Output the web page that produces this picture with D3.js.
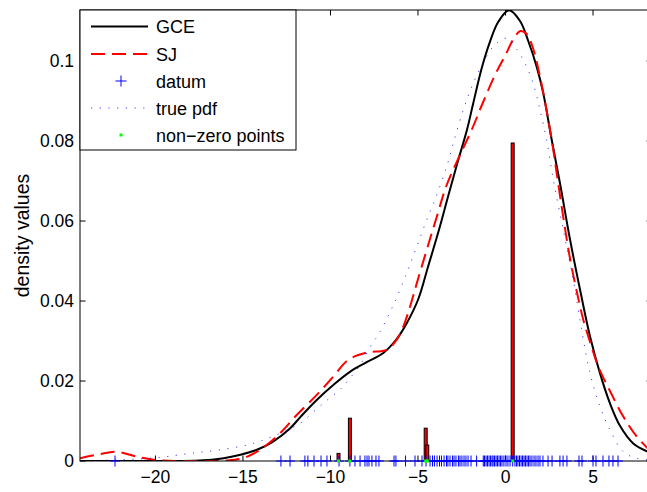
<!DOCTYPE html>
<html>
<head>
<meta charset="utf-8">
<script src="https://cdn.jsdelivr.net/npm/d3@7"></script>
<style>
  html, body { margin: 0; padding: 0; background: #fff; overflow: hidden; }
  svg { display: block; font-family: "Liberation Sans", Arial, Helvetica, sans-serif; }
</style>
</head>
<body>
<div id="chart"></div>
<script>
"use strict";

// tick values / labels
var xTicks = [-20, -15, -10, -5, 0, 5];
var xTickLabels = ["\u221220", "\u221215", "\u221210", "\u22125", "0", "5"];
var yTicks = [0, 0.02, 0.04, 0.06, 0.08, 0.1];
var yTickLabels = ["0", "0.02", "0.04", "0.06", "0.08", "0.1"];

// GCE density estimate [x, density]
var gce = [
  [-24.3, 0], [-20, 0], [-17.5, 0.0001], [-16.1, 0.0007], [-15.2, 0.0015],
  [-14.2, 0.0028], [-13.3, 0.0048], [-12.3, 0.0082], [-11.7, 0.0111],
  [-10.8, 0.0152], [-9.84, 0.019], [-8.89, 0.0223], [-7.93, 0.0247],
  [-6.98, 0.027], [-6.22, 0.0305], [-5.65, 0.0344], [-4.98, 0.0405],
  [-4.43, 0.0485], [-3.8, 0.0578], [-3.29, 0.066], [-2.77, 0.0742],
  [-2.2, 0.0828], [-1.84, 0.0895], [-1.36, 0.0982], [-0.89, 0.1048],
  [-0.41, 0.1098], [0.2, 0.1127], [0.83, 0.110], [1.3, 0.105], [1.78, 0.0986],
  [2.16, 0.0919], [2.64, 0.0803], [3.11, 0.0695], [3.69, 0.0553],
  [4.26, 0.0428], [4.83, 0.0311], [5.4, 0.0219], [5.97, 0.0144],
  [6.54, 0.0088], [7.3, 0.0044], [8.4, 0.0018]
];

// SJ kernel estimate
var sj = [
  [-24.3, 0.0007], [-23.2, 0.0017], [-22.2, 0.0023], [-20.9, 0.0009],
  [-19.9, 0.0002], [-18, 0.0], [-16, 0.0001], [-15, 0.0007], [-14.03, 0.0028],
  [-12.89, 0.0069], [-11.93, 0.0115], [-10.7, 0.0169], [-9.84, 0.0211],
  [-8.98, 0.0253], [-7.93, 0.0271], [-6.79, 0.0278], [-6.22, 0.0303],
  [-5.84, 0.0336], [-5.46, 0.0385], [-5.07, 0.0444], [-4.5, 0.0528],
  [-3.93, 0.061], [-3.36, 0.069], [-2.6, 0.0765], [-1.93, 0.0828],
  [-1.3, 0.0895], [-0.6, 0.0965], [0.0, 0.1015], [0.45, 0.1055], [0.85, 0.1075],
  [1.2, 0.1068], [1.55, 0.1035], [1.95, 0.0965], [2.3, 0.0888],
  [2.64, 0.0803], [2.93, 0.0718], [3.3, 0.061], [3.69, 0.0505], [4.1, 0.0418],
  [4.45, 0.0352], [4.9, 0.0288], [5.3, 0.0236], [5.97, 0.0175], [6.73, 0.0111],
  [7.5, 0.0061], [8.4, 0.002]
];

// true pdf
var truePdf = [
  [-24.3, 0.0001], [-22, 0.0003], [-19.74, 0.0009], [-18.03, 0.0019],
  [-16.31, 0.0028], [-14.41, 0.0044], [-12.89, 0.0069], [-11.74, 0.0094],
  [-10.79, 0.013], [-10.03, 0.0158], [-9.46, 0.0178], [-8.89, 0.0207],
  [-8.31, 0.024], [-7.74, 0.0284], [-7.17, 0.0323], [-6.6, 0.0372],
  [-6.22, 0.0408], [-5.65, 0.0469], [-5.07, 0.0536], [-4.5, 0.0603],
  [-3.93, 0.0665], [-3.36, 0.0736], [-2.98, 0.0795], [-2.41, 0.0878],
  [-1.84, 0.0945], [-1.27, 0.0995], [-0.7, 0.1036], [0.07, 0.1057],
  [0.64, 0.103], [1.21, 0.0986], [1.69, 0.0928], [1.97, 0.0878],
  [2.35, 0.0803], [2.73, 0.0703], [3.3, 0.0578], [3.87, 0.0453],
  [4.35, 0.0328], [4.83, 0.0219], [5.4, 0.0136], [5.97, 0.0078],
  [6.73, 0.0023], [7.5, 0.0007], [8.4, 0.0002]
];

// observed sample
var datum = [
  -22.31, -12.83, -12.31, -11.46, -11.29, -10.94, -10.54, -10.2, -9.51,
  -8.89, -8.6, -8.31, -8.03, -7.91, -7.8, -7.63, -7.4, -7.23, -6.37, -6.26,
  -5.71, -5.17, -4.77, -4.54, -4.31, -4.17, -4.06, -3.91, -3.77, -3.66,
  -3.51, -3.37, -3.29, -3.17, -3.03, -2.94, -2.83, -2.69, -2.6, -2.49,
  -2.37, -2.26, -2.14, -1.97, -1.65, -1.27, -1.2, -1.11, -1.03, -0.94,
  -0.86, -0.77, -0.71, -0.63, -0.54, -0.46, -0.37, -0.29, -0.2, -0.09,
  0.03, 0.14, 0.26, 0.41, 0.54, 0.63, 0.71, 0.8, 0.89, 0.97, 1.06, 1.14,
  1.23, 1.31, 1.4, 1.51, 1.63, 1.74, 1.86, 1.97, 2.14, 2.43, 2.66, 3.11,
  3.29, 3.51, 4.2, 4.37, 5.0, 5.17, 5.57, 5.91, 6.14, 6.43
];

// GCE non-zero weights
var nzX = [-9.54, -8.89, -4.56, -4.47, 0.41];
var nzW = [0.0019, 0.0107, 0.0082, 0.004, 0.0795];

draw(document.getElementById("chart"));

function draw(element) {
  var W = 647, H = 492;
  var m = { left: 80, right: 652, top: 10, bottom: 461 };
  var tickFont = "17.5px", legendFont = "18px";

  var x = d3.scaleLinear().domain([-24.31, 8.37]).range([m.left, m.right]);
  var y = d3.scaleLinear().domain([0, 0.11275]).range([m.bottom, m.top]);

  var svg = d3
    .select(element)
    .append("svg")
    .attr("width", W)
    .attr("height", H);

  svg
    .append("defs")
    .append("clipPath")
    .attr("id", "plotClip")
    .append("rect")
    .attr("x", m.left)
    .attr("y", m.top)
    .attr("width", m.right - m.left)
    .attr("height", m.bottom - m.top);

  var plot = svg.append("g").attr("clip-path", "url(#plotClip)");

  var line = d3
    .line()
    .x(function(d) { return x(d[0]); })
    .y(function(d) { return y(d[1]); })
    .curve(d3.curveCatmullRom.alpha(0.5));

  // bars for the non-zero points
  plot
    .selectAll(".bar")
    .data(nzX)
    .enter()
    .append("rect")
    .attr("class", "bar")
    .attr("x", function(d) { return x(d) - 1.5; })
    .attr("width", 3)
    .attr("y", function(d, i) { return y(nzW[i]); })
    .attr("height", function(d, i) { return y(0) - y(nzW[i]); })
    .style("fill", "#ff0000")
    .style("stroke", "#000")
    .style("stroke-width", 1);

  plot
    .append("path")
    .datum(gce)
    .attr("d", line)
    .style("fill", "none")
    .style("stroke", "#000")
    .style("stroke-width", 2);

  plot
    .append("path")
    .datum(sj)
    .attr("d", line)
    .style("fill", "none")
    .style("stroke", "#ff0000")
    .style("stroke-width", 2)
    .style("stroke-dasharray", "14,7");

  plot
    .append("path")
    .datum(truePdf)
    .attr("d", line)
    .style("fill", "none")
    .style("stroke", "#0000ff")
    .style("stroke-opacity", 0.75)
    .style("stroke-width", 1)
    .style("stroke-dasharray", "1.2,7.5");

  // axes box + inward ticks
  var axes = svg.append("g").style("stroke", "#000").style("stroke-width", 1);

  axes
    .append("rect")
    .attr("x", m.left)
    .attr("y", m.top)
    .attr("width", m.right - m.left)
    .attr("height", m.bottom - m.top)
    .style("fill", "none");

  xTicks.forEach(function(t) {
    axes.append("line")
      .attr("x1", x(t)).attr("x2", x(t))
      .attr("y1", m.bottom).attr("y2", m.bottom - 5.5);
    axes.append("line")
      .attr("x1", x(t)).attr("x2", x(t))
      .attr("y1", m.top).attr("y2", m.top + 5.5);
  });

  yTicks.forEach(function(t) {
    axes.append("line")
      .attr("x1", m.left).attr("x2", m.left + 5.5)
      .attr("y1", y(t)).attr("y2", y(t));
    axes.append("line")
      .attr("x1", m.right).attr("x2", m.right - 5.5)
      .attr("y1", y(t)).attr("y2", y(t));
  });

  // datum markers on the axis
  var marks = svg.append("g").style("stroke", "#0000ff").style("stroke-width", 1);
  datum.forEach(function(d) {
    marks.append("line")
      .attr("x1", x(d)).attr("x2", x(d))
      .attr("y1", y(0) - 5.5).attr("y2", y(0) + 5.5);
    marks.append("line")
      .attr("x1", x(d) - 5).attr("x2", x(d) + 5)
      .attr("y1", y(0)).attr("y2", y(0));
  });

  svg
    .selectAll(".nz")
    .data(nzX)
    .enter()
    .append("rect")
    .attr("class", "nz")
    .attr("x", function(d) { return x(d) - 1.5; })
    .attr("y", y(0) - 1.5)
    .attr("width", 3)
    .attr("height", 3)
    .style("fill", "#00ff00");

  // tick labels
  svg
    .selectAll(".xlab")
    .data(xTicks)
    .enter()
    .append("text")
    .attr("class", "xlab")
    .attr("x", function(d) { return x(d); })
    .attr("y", 483)
    .attr("text-anchor", "middle")
    .style("font-size", tickFont)
    .text(function(d, i) { return xTickLabels[i]; });

  svg
    .selectAll(".ylab")
    .data(yTicks)
    .enter()
    .append("text")
    .attr("class", "ylab")
    .attr("x", 74)
    .attr("y", function(d) { return y(d) + 6; })
    .attr("text-anchor", "end")
    .style("font-size", tickFont)
    .text(function(d, i) { return yTickLabels[i]; });

  svg
    .append("text")
    .attr("transform", "translate(29," + (m.top + m.bottom) / 2 + ") rotate(-90)")
    .attr("text-anchor", "middle")
    .style("font-size", "19.5px")
    .text("density values");

  // legend
  var lg = svg.append("g");
  lg.append("rect")
    .attr("x", m.left)
    .attr("y", m.top)
    .attr("width", 216)
    .attr("height", 140)
    .style("fill", "#fff")
    .style("stroke", "#000")
    .style("stroke-width", 1);

  var legendNames = ["GCE", "SJ", "datum", "true pdf", "non\u2212zero points"];
  var rowY = [26.5, 54, 81, 108, 135];

  legendNames.forEach(function(name, i) {
    var yy = rowY[i];
    if (i === 0) {
      lg.append("line").attr("x1", 91).attr("x2", 148).attr("y1", yy).attr("y2", yy)
        .style("stroke", "#000").style("stroke-width", 2);
    } else if (i === 1) {
      lg.append("line").attr("x1", 91).attr("x2", 148).attr("y1", yy).attr("y2", yy)
        .style("stroke", "#ff0000").style("stroke-width", 2)
        .style("stroke-dasharray", "14,7");
    } else if (i === 2) {
      lg.append("line").attr("x1", 121).attr("x2", 121).attr("y1", yy - 5.5).attr("y2", yy + 5.5)
        .style("stroke", "#0000ff");
      lg.append("line").attr("x1", 115.5).attr("x2", 126.5).attr("y1", yy).attr("y2", yy)
        .style("stroke", "#0000ff");
    } else if (i === 3) {
      lg.append("line").attr("x1", 91).attr("x2", 148).attr("y1", yy).attr("y2", yy)
        .style("stroke", "#0000ff").style("stroke-opacity", 0.75)
        .style("stroke-dasharray", "1.2,7.5");
    } else {
      lg.append("rect").attr("x", 119.5).attr("y", yy - 1.5).attr("width", 3).attr("height", 3)
        .style("fill", "#00ff00");
    }
    lg.append("text")
      .attr("x", 156)
      .attr("y", yy + 6.5)
      .style("font-size", legendFont)
      .text(name);
  });
}
</script>
</body>
</html>
